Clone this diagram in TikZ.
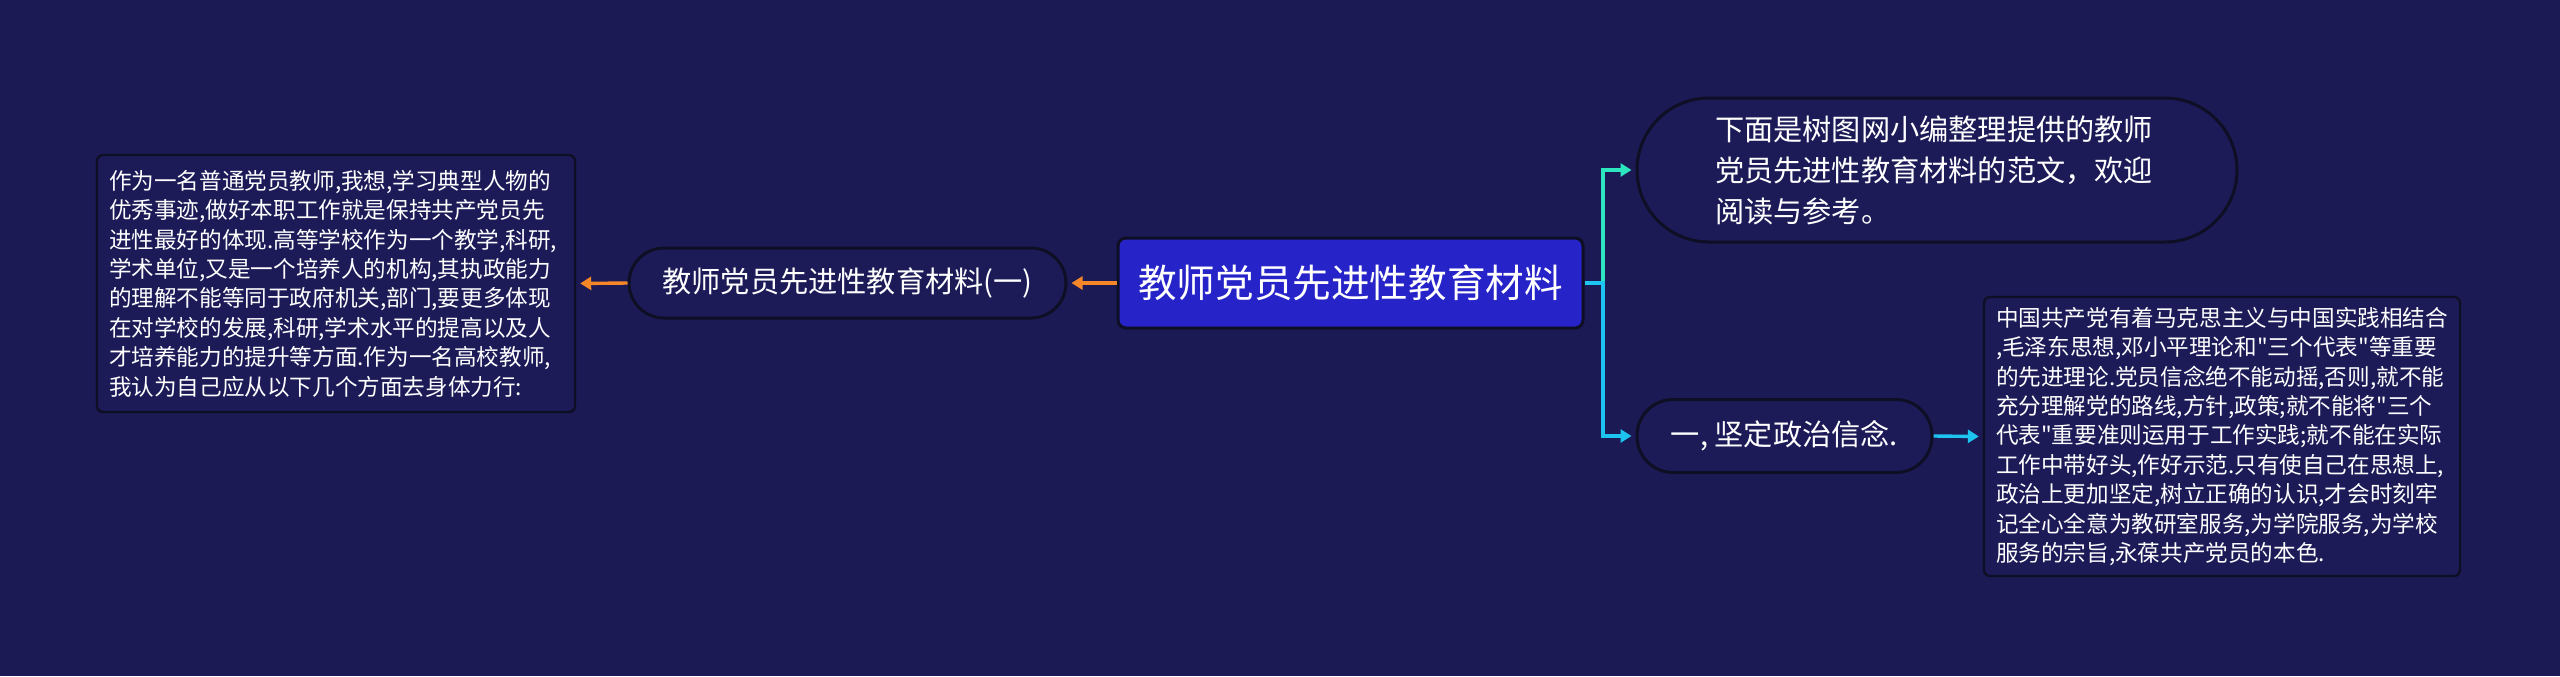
\documentclass[tikz,border=0pt]{standalone}
\usepackage{fontspec}
\setmainfont{Noto Sans CJK SC}
\newfontfamily\cjk{Noto Sans CJK SC}
\usetikzlibrary{arrows.meta}
\definecolor{bgnavy}{RGB}{27,26,84}
\definecolor{boxnavy}{RGB}{28,27,88}
\definecolor{rimdark}{RGB}{14,14,36}
\definecolor{topicblue}{RGB}{38,36,200}
\definecolor{linkorange}{RGB}{245,135,40}
\definecolor{linkteal}{RGB}{44,230,192}
\definecolor{linkcyan}{RGB}{30,196,240}

\begin{document}
\begin{tikzpicture}[x=0.5pt,y=-0.5pt,>={Triangle[length=5.5pt,width=6.5pt]},
    link/.style={line width=1.7pt,->,shorten >=2pt},
    topic/.style={draw=rimdark,line width=1.5pt,fill=topicblue,rounded corners=4pt,
      text=white,minimum width=232.5pt,minimum height=45pt,
      font=\cjk\fontsize{19.3pt}{23pt}\selectfont},
    pill/.style={draw=rimdark,line width=1.5pt,fill=boxnavy,text=white,
      font=\cjk\fontsize{14.6pt}{20.5pt}\selectfont},
    note/.style={draw=rimdark,line width=1.2pt,fill=boxnavy,rounded corners=3pt,
      text=white,align=left,inner xsep=6pt,
      font=\cjk\fontsize{11.3pt}{14.7pt}\selectfont}]
    % background
    \fill[bgnavy] (0,0) rectangle (2560,676);
    % central topic
    \node[topic] (topic) at (1350.5,283) {教师党员先进性教育材料};
    % left branch
    \node[pill,rounded corners=17.5pt,minimum width=218.5pt,minimum height=35pt]
      (part1) at (847.5,283) {教师党员先进性教育材料(一)};
    \node[note,text width=227pt,minimum height=128.5pt] (leftnote) at (336,283.5)
      {作为一名普通党员教师,我想,学习典型人物的\\
       优秀事迹,做好本职工作就是保持共产党员先\\
       进性最好的体现.高等学校作为一个教学,科研,\\
       学术单位,又是一个培养人的机构,其执政能力\\
       的理解不能等同于政府机关,部门,要更多体现\\
       在对学校的发展,科研,学术水平的提高以及人\\
       才培养能力的提升等方面.作为一名高校教师,\\
       我认为自己应从以下几个方面去身体力行:};
    % right branch
    \node[pill,rounded corners=36pt,minimum width=300pt,minimum height=72pt,
      text width=222pt,align=left] (intro) at (1937,170)
      {下面是树图网小编整理提供的教师\\
       党员先进性教育材料的范文，欢迎\\
       阅读与参考。};
    \node[pill,rounded corners=18pt,minimum width=147.5pt,minimum height=36.5pt]
      (point1) at (1784.5,436) {一, 坚定政治信念.};
    \node[note,text width=226pt,minimum height=139.5pt] (rightnote) at (2222,436.5)
      {中国共产党有着马克思主义与中国实践相结合\\
       ,毛泽东思想,邓小平理论和"三个代表"等重要\\
       的先进理论.党员信念绝不能动摇,否则,就不能\\
       充分理解党的路线,方针,政策;就不能将"三个\\
       代表"重要准则运用于工作实践;就不能在实际\\
       工作中带好头,作好示范.只有使自己在思想上,\\
       政治上更加坚定,树立正确的认识,才会时刻牢\\
       记全心全意为教研室服务,为学院服务,为学校\\
       服务的宗旨,永葆共产党员的本色.};
    % connectors
    \coordinate (fork) at (1603,283);
    \draw[link,linkorange] (topic.west) -- (part1.east);
    \draw[link,linkorange] (part1.west) -- (leftnote.east);
    \draw[link,linkteal] (fork) |- (intro.west);
    \draw[link,linkcyan] (topic.east) -- (fork) |- (point1.west);
    \draw[link,linkcyan] (point1.east) -- (rightnote.west);
  \end{tikzpicture}
\end{document}
